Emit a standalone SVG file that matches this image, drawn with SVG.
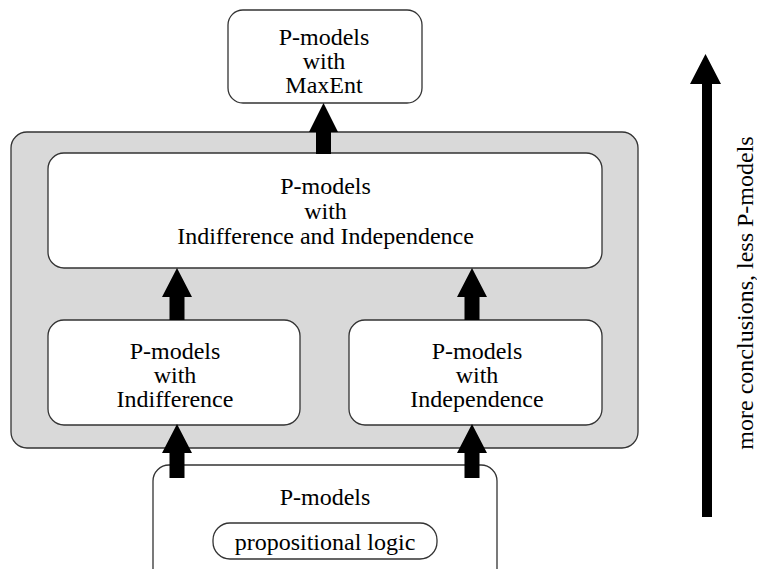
<svg xmlns="http://www.w3.org/2000/svg" width="757" height="569" viewBox="0 0 757 569">
<style>
.box{fill:#fff;stroke:#333;stroke-width:1.3}
.grp{fill:#d9d9d9;stroke:#333;stroke-width:1.3}
.t{font-family:"Liberation Serif","DejaVu Serif",serif;font-size:24px;fill:#000;text-anchor:middle}
.arr{fill:#000}
</style>
<rect width="757" height="569" fill="#fff"/>
<g id="group-box">
<rect class="grp" x="11" y="132" width="627" height="316" rx="16"/>
</g>
<g id="node-maxent">
<rect class="box" x="228" y="10" width="194" height="93" rx="15"/>
<text class="t" x="324" y="45">P-models</text>
<text class="t" x="324" y="69">with</text>
<text class="t" x="324" y="93">MaxEnt</text>
</g>
<g id="node-indiff-indep">
<rect class="box" x="48" y="153" width="554" height="115" rx="16"/>
<text class="t" x="325.5" y="194">P-models</text>
<text class="t" x="325.5" y="219">with</text>
<text class="t" x="325.5" y="244">Indifference and Independence</text>
</g>
<g id="node-indifference">
<rect class="box" x="48" y="320" width="252" height="105" rx="16"/>
<text class="t" x="175" y="359">P-models</text>
<text class="t" x="175" y="383">with</text>
<text class="t" x="175" y="407">Indifference</text>
</g>
<g id="node-independence">
<rect class="box" x="349" y="320" width="253" height="105" rx="16"/>
<text class="t" x="477" y="359">P-models</text>
<text class="t" x="477" y="383">with</text>
<text class="t" x="477" y="407">Independence</text>
</g>
<g id="node-pmodels">
<rect class="box" x="153" y="465" width="344" height="130" rx="16"/>
<text class="t" x="325" y="505">P-models</text>
<rect class="box" x="213" y="523" width="224" height="36" rx="17"/>
<text class="t" x="325" y="550">propositional logic</text>
</g>
<g id="connectors">
<polygon class="arr" points="323.5,103 338,132 331,132 331,154 316,154 316,132 309,132"/>
<polygon class="arr" points="177,268 192,297 184.5,297 184.5,320 169.5,320 169.5,297 162,297"/>
<polygon class="arr" points="472,268 487,297 479.5,297 479.5,320 464.5,320 464.5,297 457,297"/>
<polygon class="arr" points="177,424 192,453 184.5,453 184.5,478 169.5,478 169.5,453 162,453"/>
<polygon class="arr" points="472,424 487,453 479.5,453 479.5,478 464.5,478 464.5,453 457,453"/>
<polygon class="arr" points="705.5,54 721,84 712,84 712,517 702,517 702,84 690,84"/>
</g>
<text class="t" transform="translate(753,293) rotate(-90)" x="0" y="0">more conclusions, less P-models</text>
</svg>
